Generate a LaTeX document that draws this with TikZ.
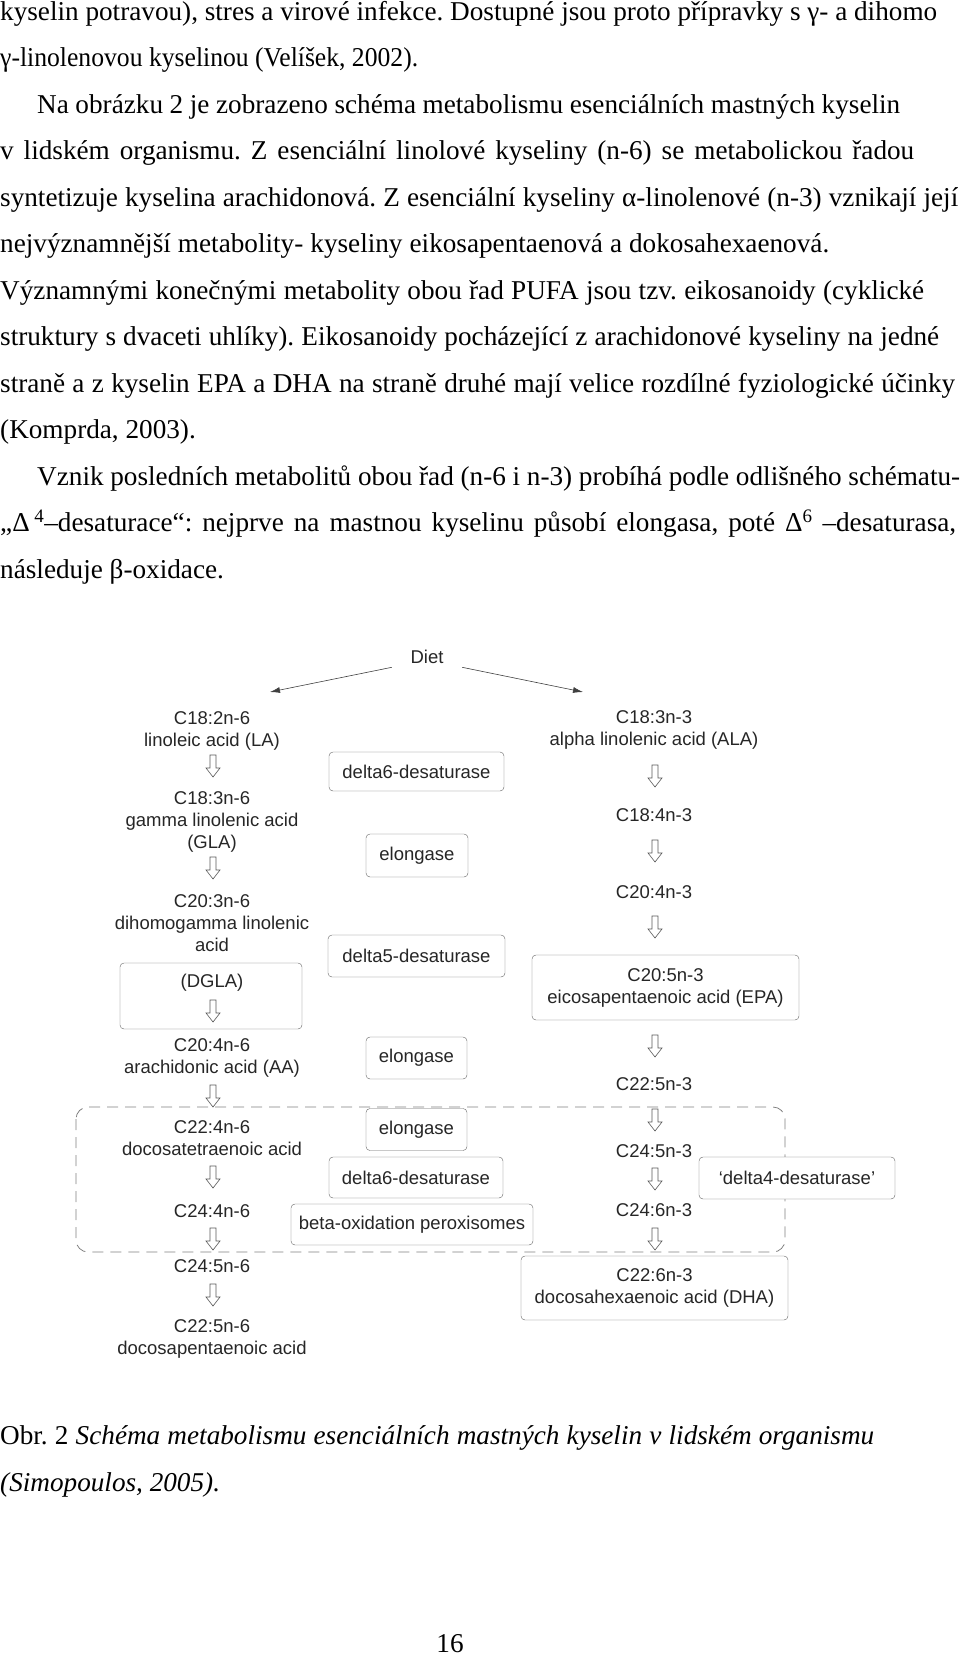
\documentclass[tikz,border=0pt]{standalone}
\usepackage{graphicx}
\usepackage{fontspec}
\setmainfont{Liberation Serif}
\newfontfamily\chartfam{Liberation Sans}
\usetikzlibrary{arrows.meta}

\newcommand{\bodyfont}{\fontsize{27.2}{33}\selectfont\frenchspacing}
\newcommand{\chartfont}{\chartfam\fontsize{18.5}{22}\selectfont}
\newcommand{\fitline}[2]{\makebox[#1pt][s]{#2}}
\newcommand{\squeezeline}[2]{\resizebox{#1pt}{\height}{#2}}

\begin{document}
\begin{tikzpicture}[
			x=1pt, y=-1pt,
			txt/.style={anchor=base west, inner sep=0pt, font=\bodyfont},
			lbl/.style={align=center, inner sep=0pt, font=\chartfont, text=black!85},
			enz/.style={draw=black!60, rounded corners=4pt, fill=white, inner sep=0pt, font=\chartfont, text=black!85, align=center},
			dashbox/.style={draw=black!50, dash pattern=on 11pt off 7pt, line width=0.8pt, rounded corners=12pt},
			dietarrow/.style={-{Latex[length=10pt,width=6pt]}, black!75, line width=0.6pt},
			harrow/.pic={\draw[black!65, line width=0.6pt, fill=white] (-3,0) -- (-3,13) -- (-7,13) -- (0,22) -- (7,13) -- (3,13) -- (3,0) -- cycle;}
		]
		\useasboundingbox (0,0) rectangle (960,1655);

		% Text above the figure
		\node[txt] (t1) at (0,20) {\fitline{937}{kyselin potravou), stres a virové infekce. Dostupné jsou proto přípravky s γ- a dihomo}};
		\node[txt] (t2) at (0,66.5) {\squeezeline{418}{γ-linolenovou kyselinou (Velíšek, 2002).}};
		\node[txt] (t3) at (37,113) {\fitline{863}{Na obrázku 2 je zobrazeno schéma metabolismu esenciálních mastných kyselin}};
		\node[txt] (t4) at (0,159.5) {\fitline{914}{v lidském organismu. Z esenciální linolové kyseliny (n-6) se metabolickou řadou}};
		\node[txt] (t5) at (0,206) {\fitline{958}{syntetizuje kyselina arachidonová. Z esenciální kyseliny α-linolenové (n-3) vznikají její}};
		\node[txt] (t6) at (0,252.5) {\fitline{829}{nejvýznamnější metabolity- kyseliny eikosapentaenová a dokosahexaenová.}};
		\node[txt] (t7) at (0,299) {\fitline{924}{Významnými konečnými metabolity obou řad PUFA jsou tzv. eikosanoidy (cyklické}};
		\node[txt] (t8) at (0,345.5) {\fitline{939}{struktury s dvaceti uhlíky). Eikosanoidy pocházející z arachidonové kyseliny na jedné}};
		\node[txt] (t9) at (0,392) {\fitline{955}{straně a z kyselin EPA a DHA na straně druhé mají velice rozdílné fyziologické účinky}};
		\node[txt] (t10) at (0,438.5) {(Komprda, 2003).};
		\node[txt] (t11) at (37,485) {\fitline{923}{Vznik posledních metabolitů obou řad (n-6 i n-3) probíhá podle odlišného schématu-}};
		\node[txt] (t12) at (0,531.5) {\fitline{956}{„Δ\,\textsuperscript{4}–desaturace“: nejprve na mastnou kyselinu působí elongasa, poté Δ\textsuperscript{6} –desaturasa,}};
		\node[txt] (t13) at (0,578) {následuje β-oxidace.};

		% Dashed region
		\draw[dashbox] (76,1107) rectangle (785,1252);

		% Enzymes
		\node[enz, minimum width=175pt, minimum height=39pt] (desA) at (416.5,771.5) {delta6-desaturase};
		\node[enz, minimum width=102pt, minimum height=43pt] (eloA) at (417,855.5) {elongase};
		\node[enz, minimum width=177pt, minimum height=42pt] (desB) at (416.5,956) {delta5-desaturase};
		\node[enz, minimum width=101pt, minimum height=42pt] (eloB) at (416.5,1058) {elongase};
		\node[enz, minimum width=101pt, minimum height=42pt] (eloC) at (416.5,1129.5) {elongase};
		\node[enz, minimum width=174pt, minimum height=41pt] (desC) at (416,1177.5) {delta6-desaturase};
		\node[enz, minimum width=242pt, minimum height=41pt] (betaox) at (412,1224.5) {beta-oxidation peroxisomes};
		\node[enz, minimum width=196pt, minimum height=42pt] (desD) at (797,1178) {‘delta4-desaturase’};
		\node[enz, minimum width=182pt, minimum height=66pt] (dglabox) at (211,996) {};

		% n-6 series
		\node[lbl, inner xsep=18.5pt, inner ysep=3.3pt] (diet) at (427,657) {Diet};
		\node[lbl] (la) at (212,731) {C18:2n-6\\linoleic acid (LA)};
		\node[lbl] (gla) at (212,822) {C18:3n-6\\gamma linolenic acid\\(GLA)};
		\node[lbl] (dgla) at (212,923) {C20:3n-6\\dihomogamma linolenic\\acid};
		\node[lbl] (dglalbl) at (212,983) {(DGLA)};
		\node[lbl] (aa) at (212,1058) {C20:4n-6\\arachidonic acid (AA)};
		\node[lbl] (dta) at (212,1138) {C22:4n-6\\docosatetraenoic acid};
		\node[lbl] (c24a) at (212,1211) {C24:4n-6};
		\node[lbl] (c24b) at (212,1266) {C24:5n-6};
		\node[lbl] (dpa) at (212,1339) {C22:5n-6\\docosapentaenoic acid};

		% n-3 series
		\node[lbl] (ala) at (654,730) {C18:3n-3\\alpha linolenic acid (ALA)};
		\node[lbl] (sda) at (654,815) {C18:4n-3};
		\node[lbl] (eta) at (654,892) {C20:4n-3};
		\node[enz, minimum width=267pt, minimum height=65pt] (epa) at (665.5,987.5) {C20:5n-3\\eicosapentaenoic acid (EPA)};
		\node[lbl] (dpan3) at (654,1084) {C22:5n-3};
		\node[lbl] (tpa) at (654,1151) {C24:5n-3};
		\node[lbl] (thx) at (654,1210) {C24:6n-3};
		\node[enz, minimum width=267pt, minimum height=64pt] (dha) at (654.5,1288) {C22:6n-3\\docosahexaenoic acid (DHA)};

		% Diet arrows
		\coordinate (laend) at (270,692);
		\coordinate (alaend) at (583,692);
		\draw[dietarrow] (diet.south west) -- (laend);
		\draw[dietarrow] (diet.south east) -- (alaend);

		% Hollow arrows
		\pic at (213,755) {harrow};
		\pic at (213,857) {harrow};
		\pic at (213,1000) {harrow};
		\pic at (213,1085) {harrow};
		\pic at (213,1166) {harrow};
		\pic at (213,1228) {harrow};
		\pic at (213,1284) {harrow};
		\pic at (655,765) {harrow};
		\pic at (655,840) {harrow};
		\pic at (655,916) {harrow};
		\pic at (655,1035) {harrow};
		\pic at (655,1109) {harrow};
		\pic at (655,1168) {harrow};
		\pic at (655,1228) {harrow};

		% Caption
		\node[txt] (cap1) at (0,1444) {\fitline{874}{Obr. 2 \textit{Schéma metabolismu esenciálních mastných kyselin v lidském organismu}}};
		\node[txt] (cap2) at (0,1491) {\textit{(Simopoulos, 2005).}};
		\node[anchor=base, inner sep=0pt, font=\bodyfont] (page) at (450,1652) {16};

	\end{tikzpicture}
\end{document}
